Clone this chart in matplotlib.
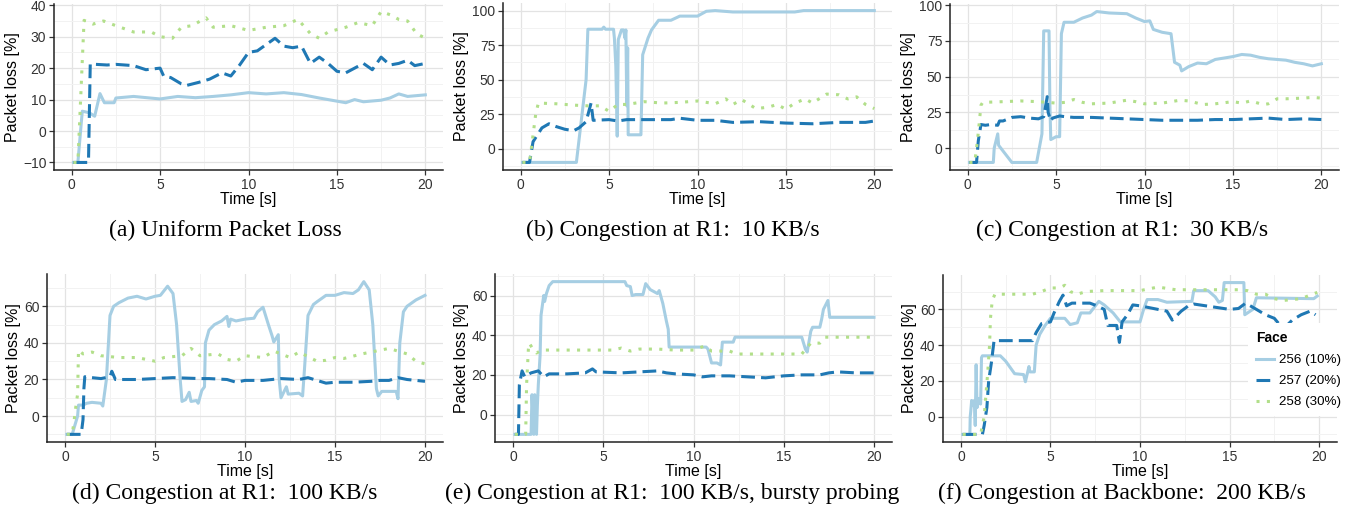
import numpy as np
import matplotlib
matplotlib.use("Agg")
import matplotlib.pyplot as plt
from matplotlib.ticker import MultipleLocator

# series: (time [s], packet loss [%])
faces = ["256 (10%)", "257 (20%)", "258 (30%)"]
colors = ["#a6cee3", "#1f78b4", "#b2df8a"]

a_256 = [(0.1, -10), (0.35, -10), (0.6, 6.3), (1.0, 5.8), (1.3, 4.7), (1.6, 11.9), (1.85, 9), (2.4, 9),
         (2.5, 10.5), (3.5, 11), (5, 10.2), (6, 11), (7, 10.6), (8, 11), (9, 11.5), (10, 12.2), (11, 11.8),
         (12, 12.2), (13, 11.6), (14, 10.5), (15, 9.5), (15.5, 9), (16, 10), (16.5, 9.3), (17.5, 9.8),
         (18, 10.5), (18.5, 11.8), (19, 11), (20, 11.5)]
a_257 = [(0.1, -10), (0.95, -10), (1.05, 21.3), (2, 21), (2.5, 21.2), (3.5, 20.8), (4.2, 19.5), (5, 20),
         (5.2, 17.5), (5.6, 17), (6.2, 15), (6.5, 14.5), (7.2, 15.5), (7.8, 16.5), (8.5, 18.5), (9, 17.5),
         (9.5, 21), (10, 25), (10.5, 25.5), (11, 27.5), (11.5, 29.5), (12, 27), (12.5, 26.5), (13, 27),
         (13.5, 21.5), (14, 23.5), (14.5, 21.5), (15, 19), (15.5, 18.5), (16, 20), (16.5, 21.5), (17, 19.5),
         (17.5, 23.5), (18, 21), (18.5, 21.5), (19, 22.5), (19.4, 20.8), (20, 21.5)]
a_258 = [(0.1, -10), (0.35, -10), (0.7, 35.2), (1.2, 34), (1.8, 35), (2.5, 33.5), (3.5, 31.5), (4.5, 31.5),
         (5, 30), (5.7, 29.5), (6.2, 33), (6.8, 33.5), (7.6, 36), (8, 33), (9, 33.5), (10, 32), (11, 33),
         (12, 33.5), (12.8, 35.5), (13.5, 31), (14, 29.5), (14.5, 31.5), (15.5, 33), (16.2, 34.5), (17, 33.5),
         (17.5, 38), (18, 37), (18.5, 35.5), (19, 35), (19.5, 31), (20, 29.5)]

b_256 = [(0.1, -10), (3.15, -10), (3.7, 50), (3.8, 86.5), (4.6, 86.5), (4.7, 88), (4.8, 86.5), (5.25, 86.5),
         (5.3, 80), (5.38, 60), (5.46, 9), (5.52, 79), (5.7, 86), (5.82, 86), (5.9, 80), (5.95, 86),
         (6.0, 31), (6.05, 73), (6.08, 10), (6.8, 10), (6.9, 68), (7.2, 80), (7.4, 86), (7.8, 93), (8.5, 93),
         (9, 96), (10, 96), (10.5, 99.5), (11, 100), (12, 99), (15.5, 99), (16, 100), (20, 100)]
b_257 = [(0.1, -10), (0.5, -10), (0.7, 5), (1.2, 15), (1.6, 18), (2.0, 16), (2.5, 14), (3.0, 13), (3.3, 15),
         (3.7, 19.5), (3.98, 33), (4.1, 20.5), (5, 21), (5.5, 20), (6, 21), (8.5, 21), (9, 22), (10, 20.5),
         (11, 20.5), (12, 19), (13.5, 19.5), (15, 18.5), (16.5, 18), (18, 19), (19.5, 19), (20, 20)]
b_258 = [(0.1, -10), (0.5, -10), (0.6, 0), (0.7, 10), (0.85, 25), (1.0, 33), (2, 32.5), (3, 31.5), (3.8, 31),
         (4.5, 31), (5.0, 27), (5.5, 32), (6, 32), (7, 34), (8, 33), (9, 33.5), (10, 34.5), (11, 32.5),
         (11.6, 36), (12, 32), (12.5, 35.5), (13.3, 29), (14, 30), (14.5, 32), (15, 28.5), (15.5, 33),
         (16.1, 36), (16.5, 33), (17.3, 39.5), (18, 39), (18.5, 36), (19, 37.5), (19.5, 32), (20, 29)]

c_256 = [(0.1, -10), (1.45, -10), (1.5, 0), (1.7, 10), (1.75, 2), (2.5, -10), (3.9, -10), (4.2, 10),
         (4.3, 82), (4.6, 82), (4.65, 30), (4.7, 6), (5, 8), (5.2, 8), (5.3, 80), (5.45, 88), (6, 88),
         (6.5, 91), (7, 93), (7.3, 95.5), (8, 94.5), (9, 94), (9.5, 91), (10, 88.5), (10.3, 89), (10.5, 83),
         (11, 81), (11.5, 80), (11.7, 60), (12, 58), (12.1, 54), (12.5, 57), (13, 59.5), (13.5, 59), (14, 62),
         (14.5, 63), (15, 64), (15.5, 65.5), (16, 65), (16.5, 63.5), (17, 62.5), (17.5, 62), (18, 61.5),
         (18.5, 60), (19, 59), (19.5, 57.5), (20, 59)]
c_257 = [(0.1, -10), (0.5, -10), (0.6, 5), (0.75, 16.5), (1.0, 16), (1.3, 16.5), (1.7, 16), (1.8, 19),
         (2, 19), (2.5, 21.5), (3, 22), (3.5, 21), (4.0, 20.5), (4.3, 22), (4.5, 36), (4.55, 25), (4.7, 19),
         (4.8, 21), (5.2, 22.5), (5.5, 22), (6, 21.5), (7, 21.5), (8, 21), (9, 20.5), (10, 20), (11, 19.5),
         (12, 19.5), (13, 19.5), (14, 20), (15, 20), (16, 20.5), (17, 21), (18, 20), (19, 20.5), (20, 20)]
c_258 = [(0.1, -10), (0.4, -10), (0.55, 5), (0.65, 17), (0.75, 30), (0.85, 32), (2, 32.5), (3, 33),
         (4, 32.5), (5, 31.5), (5.5, 32), (6, 34), (6.5, 32), (7, 31), (8, 31.5), (9, 33.5), (9.5, 32.5),
         (10, 31), (11, 31.5), (12, 33.5), (12.5, 33), (13.3, 30.5), (14, 31), (15, 32.5), (15.5, 31.5),
         (16, 33), (16.7, 30.5), (17, 31), (17.5, 34.5), (18, 34.5), (19, 35), (19.5, 35.5), (20, 35)]

d_256 = [(0.1, -10), (0.4, -10), (0.7, 0), (0.75, 6), (1, 6), (1.2, 7), (1.5, 7.5), (2.0, 7), (2.1, 5.5),
         (2.3, 20), (2.5, 55), (2.7, 60), (3.0, 62), (3.5, 64.5), (4, 65.5), (4.5, 64), (5, 65.5), (5.3, 66),
         (5.7, 71), (6.0, 67), (6.2, 50), (6.4, 20), (6.5, 8), (6.7, 9), (6.9, 13), (7.0, 8), (7.3, 8.5),
         (7.4, 7), (7.6, 14), (7.75, 16), (7.8, 40), (8, 47), (8.3, 50), (8.7, 52), (9.0, 54.5), (9.1, 49),
         (9.2, 53), (9.5, 52), (10, 53), (10.5, 53.5), (10.7, 57), (11, 59.5), (11.3, 50), (11.5, 44),
         (11.6, 40.5), (11.85, 44.5), (11.9, 20), (12.0, 10), (12.3, 16), (12.4, 12), (13, 12.5), (13.2, 11),
         (13.3, 25), (13.5, 55), (13.8, 61), (14, 62.5), (14.5, 66), (15, 66), (15.5, 67.5), (16, 67),
         (16.3, 69), (16.6, 73.5), (16.9, 69), (17.1, 50), (17.3, 15), (17.4, 11), (17.6, 13.5), (18, 13.5),
         (18.4, 13.5), (18.5, 9.5), (18.6, 40), (18.8, 57), (19, 60), (19.5, 63.5), (20, 66)]
d_257 = [(0.1, -10), (0.9, -10), (1, -2), (1.05, 15), (1.1, 21.5), (1.5, 21), (2, 20.5), (2.5, 21.5),
         (2.6, 24.5), (2.8, 20), (4, 20), (5, 20.5), (6, 21), (7.5, 20.5), (8, 20.5), (9, 20), (9.5, 18.5),
         (10, 19.5), (11, 19.5), (12, 20.5), (13, 20), (13.5, 21), (14, 19.5), (14.5, 18), (15, 18.5),
         (16, 18.5), (17, 19), (17.5, 19.5), (18, 19.5), (18.5, 21), (19, 20), (20, 19)]
d_258 = [(0.1, -10), (0.4, -10), (0.5, -3), (0.6, 5), (0.7, 12), (0.75, 36), (1, 34), (1.5, 35), (2, 33),
         (3, 32), (4, 32), (4.5, 31), (5, 30), (5.5, 32), (6.5, 33), (7, 37), (7.5, 33), (8.5, 34), (9, 31),
         (9.5, 30), (10, 33), (11, 32), (11.6, 35.5), (12, 34), (12.5, 32), (13, 35), (14, 30), (14.5, 30.5),
         (15, 32), (15.5, 31.5), (16.5, 34), (17.5, 36), (18, 37), (18.5, 35.5), (19, 34), (19.5, 30),
         (20, 28.5)]

e_256 = [(0.1, -10), (1.0, -10), (1.05, 10), (1.15, -10), (1.2, 10), (1.3, -10), (1.35, 5), (1.4, 15),
         (1.5, 30), (1.55, 50), (1.7, 60), (1.75, 57), (1.85, 61), (2.0, 65), (2.2, 67), (6.2, 67),
         (6.3, 65), (6.5, 64.5), (6.6, 60), (6.8, 60.5), (7.2, 60.5), (7.35, 66), (7.6, 63), (8, 61),
         (8.1, 62.5), (8.3, 56), (8.5, 47), (8.6, 43), (8.65, 34), (10.7, 34), (10.8, 33), (11, 26),
         (11.3, 26), (11.5, 25), (11.6, 36.5), (12.2, 36.5), (12.3, 39), (16, 39), (16.2, 33), (16.3, 31.5),
         (16.5, 42), (16.6, 44), (17, 44), (17.1, 48), (17.2, 53), (17.45, 57.5), (17.55, 49), (20, 49)]
e_257 = [(0.1, -10), (0.3, -10), (0.35, 15), (0.5, 22), (0.65, 19), (0.8, 20), (1.0, 21), (1.4, 22),
         (1.7, 19), (2, 20.5), (3, 20.5), (4, 21), (4.4, 23), (4.6, 21.5), (6, 21), (7, 21.5), (8, 22),
         (8.5, 21), (9, 20.5), (10, 20), (10.5, 19), (11, 19.5), (12, 19.5), (13, 19), (14, 18.5),
         (15, 19.5), (16, 20), (17, 20), (17.5, 21), (18, 21.5), (19, 21), (20, 21)]
e_258 = [(0.1, -10), (0.7, -10), (0.75, 15), (0.85, 33), (0.9, 36), (1.1, 33), (1.3, 31), (1.6, 32.5),
         (3, 32.5), (4, 32.5), (5.5, 32.5), (6.0, 33.5), (6.5, 32), (7, 33), (8, 33), (9, 32.5), (10, 32.5),
         (10.6, 34.5), (11, 32), (11.5, 32), (12, 32), (12.4, 30.5), (16, 30.5), (16.5, 36), (17, 36),
         (17.3, 39), (20, 39)]

f_256 = [(0.1, -10), (0.5, -10), (0.52, 0), (0.55, 3), (0.6, 9), (0.7, 6), (0.75, 9), (0.8, -5), (0.85, 29),
         (0.9, 5), (1.0, 10), (1.1, 7), (1.15, 33), (1.2, 34), (2.2, 34), (2.5, 31), (3.0, 24), (3.5, 23.5),
         (3.6, 19.5), (3.8, 28), (3.85, 25), (4.1, 25), (4.2, 40), (4.4, 46), (4.7, 51), (5.0, 55), (5.8, 55),
         (6.1, 51.5), (6.5, 52.5), (6.7, 58), (7.2, 58), (7.7, 64.5), (8, 62.5), (8.5, 58), (8.9, 53),
         (9.3, 53), (10, 53), (10.2, 60), (10.4, 65.5), (11, 65.5), (11.5, 64), (12.9, 64.5), (13.0, 70.5),
         (13.8, 70.5), (14.2, 67), (14.4, 64), (14.6, 65), (14.7, 75), (15.8, 75), (15.85, 57), (16.3, 60),
         (16.5, 66.5), (19.7, 66), (19.9, 67.5)]
f_257 = [(0.1, -10), (1.2, -10), (1.3, -5), (1.45, 5), (1.55, 20), (1.7, 30), (1.85, 42.5), (4.0, 42.5),
         (4.2, 47), (4.5, 52), (5.0, 53), (5.2, 58), (5.5, 64.5), (5.7, 68), (5.9, 62), (6.2, 63.5),
         (7.2, 63.5), (7.6, 62), (8.0, 60), (8.2, 51), (8.7, 51), (8.85, 41.5), (9.0, 53), (9.3, 57),
         (9.6, 62.5), (10, 62), (10.5, 61), (11, 60), (11.5, 59), (11.8, 54), (12.3, 59), (12.7, 62),
         (13, 63), (14, 61.5), (15, 60), (15.5, 60.5), (15.9, 63.5), (16.5, 60), (17, 57), (17.5, 55),
         (18, 49), (18.5, 54), (19, 57), (19.5, 59), (19.8, 57)]
f_258 = [(0.1, -10), (1.1, -10), (1.3, 0), (1.5, 25), (1.6, 40), (1.65, 55), (1.75, 65), (1.9, 68.5),
         (4, 68.5), (4.5, 70), (5.0, 72), (5.5, 72), (5.8, 73.5), (6.1, 70), (6.5, 68.5), (7, 70), (8, 70.5),
         (9, 70.5), (10, 70.5), (11, 72.5), (12, 71), (13, 71), (14, 71), (15, 71), (15.5, 71), (16, 70.5),
         (16.5, 68.5), (17, 68.5), (17.5, 66), (18, 65), (19, 66), (19.5, 68), (19.9, 69.5)]

panels = [
    ("(a) Uniform Packet Loss", [a_256, a_257, a_258], [-10, 0, 10, 20, 30, 40]),
    ("(b) Congestion at R1:  10 KB/s", [b_256, b_257, b_258], [0, 25, 50, 75, 100]),
    ("(c) Congestion at R1:  30 KB/s", [c_256, c_257, c_258], [0, 25, 50, 75, 100]),
    ("(d) Congestion at R1:  100 KB/s", [d_256, d_257, d_258], [0, 20, 40, 60]),
    ("(e) Congestion at R1:  100 KB/s, bursty probing", [e_256, e_257, e_258], [0, 20, 40, 60]),
    ("(f) Congestion at Backbone:  200 KB/s", [f_256, f_257, f_258], [0, 20, 40, 60]),
]

W, H = 1364, 518
# axes boxes in pixels: left, top, right, bottom
boxes = [(54, 4, 443, 170), (503, 3, 892, 170), (950, 4, 1339, 170),
         (47, 274, 443, 442), (495, 274, 892, 442), (943, 275, 1337, 442)]
caption_xy = [(225, 230), (673, 230), (1122, 230), (225, 493), (672, 493), (1122, 493)]

plt.rcParams["font.family"] = ["Liberation Sans", "DejaVu Sans"]
fig = plt.figure(figsize=(W / 100, H / 100), dpi=100)

styles = [dict(ls="-"),
          dict(dashes=(4.5, 2)),
          dict(dashes=(1, 2.4), dash_capstyle="butt")]

for i, (title, series, yt) in enumerate(panels):
    l, t, r, b = boxes[i]
    ax = fig.add_axes([l / W, 1 - b / H, (r - l) / W, (b - t) / H])
    for j, s in enumerate(series):
        x = [p[0] for p in s]
        y = [p[1] for p in s]
        ax.plot(x, y, color=colors[j], lw=2.2, label=faces[j], **styles[j])
    ax.set_xlim(-1, 21)
    ax.set_xticks([0, 5, 10, 15, 20])
    ax.set_yticks(yt)
    step = yt[1] - yt[0]
    ax.xaxis.set_minor_locator(MultipleLocator(2.5))
    ax.yaxis.set_minor_locator(MultipleLocator(step / 2))
    ax.grid(which="major", color="#e3e3e3", lw=0.9)
    ax.grid(which="minor", color="#f2f2f2", lw=0.7)
    ax.set_axisbelow(True)
    for sp in ["top", "right"]:
        ax.spines[sp].set_visible(False)
    for sp in ["left", "bottom"]:
        ax.spines[sp].set_color("#222222")
        ax.spines[sp].set_linewidth(1.1)
    ax.tick_params(which="major", direction="out", length=3.5, width=0.9, color="#333333",
                   labelsize=10, labelcolor="#333333", pad=2)
    ax.tick_params(which="minor", length=0)
    ax.set_xlabel("Time [s]", fontsize=11.5, labelpad=0.5)
    ax.set_ylabel("Packet loss [%]", fontsize=11.5, labelpad=2)
    cx, cy = caption_xy[i]
    fig.text(cx / W, 1 - cy / H, title, ha="center", va="center", fontsize=17,
             family="Liberation Serif")
    if i == 5:
        leg = ax.legend(title="Face", loc="upper left", bbox_to_anchor=(0.774, 0.71),
                        frameon=True, fontsize=9.6, title_fontsize=10, handlelength=1.35,
                        borderaxespad=0, borderpad=0.6, labelspacing=0.65, handletextpad=0.4)
        leg.get_frame().set_facecolor("white")
        leg.get_frame().set_edgecolor("none")
        leg.get_frame().set_alpha(1)
        leg.get_title().set_fontweight("bold")
        leg._legend_box.align = "left"

fig.savefig("out.png", dpi=100)
